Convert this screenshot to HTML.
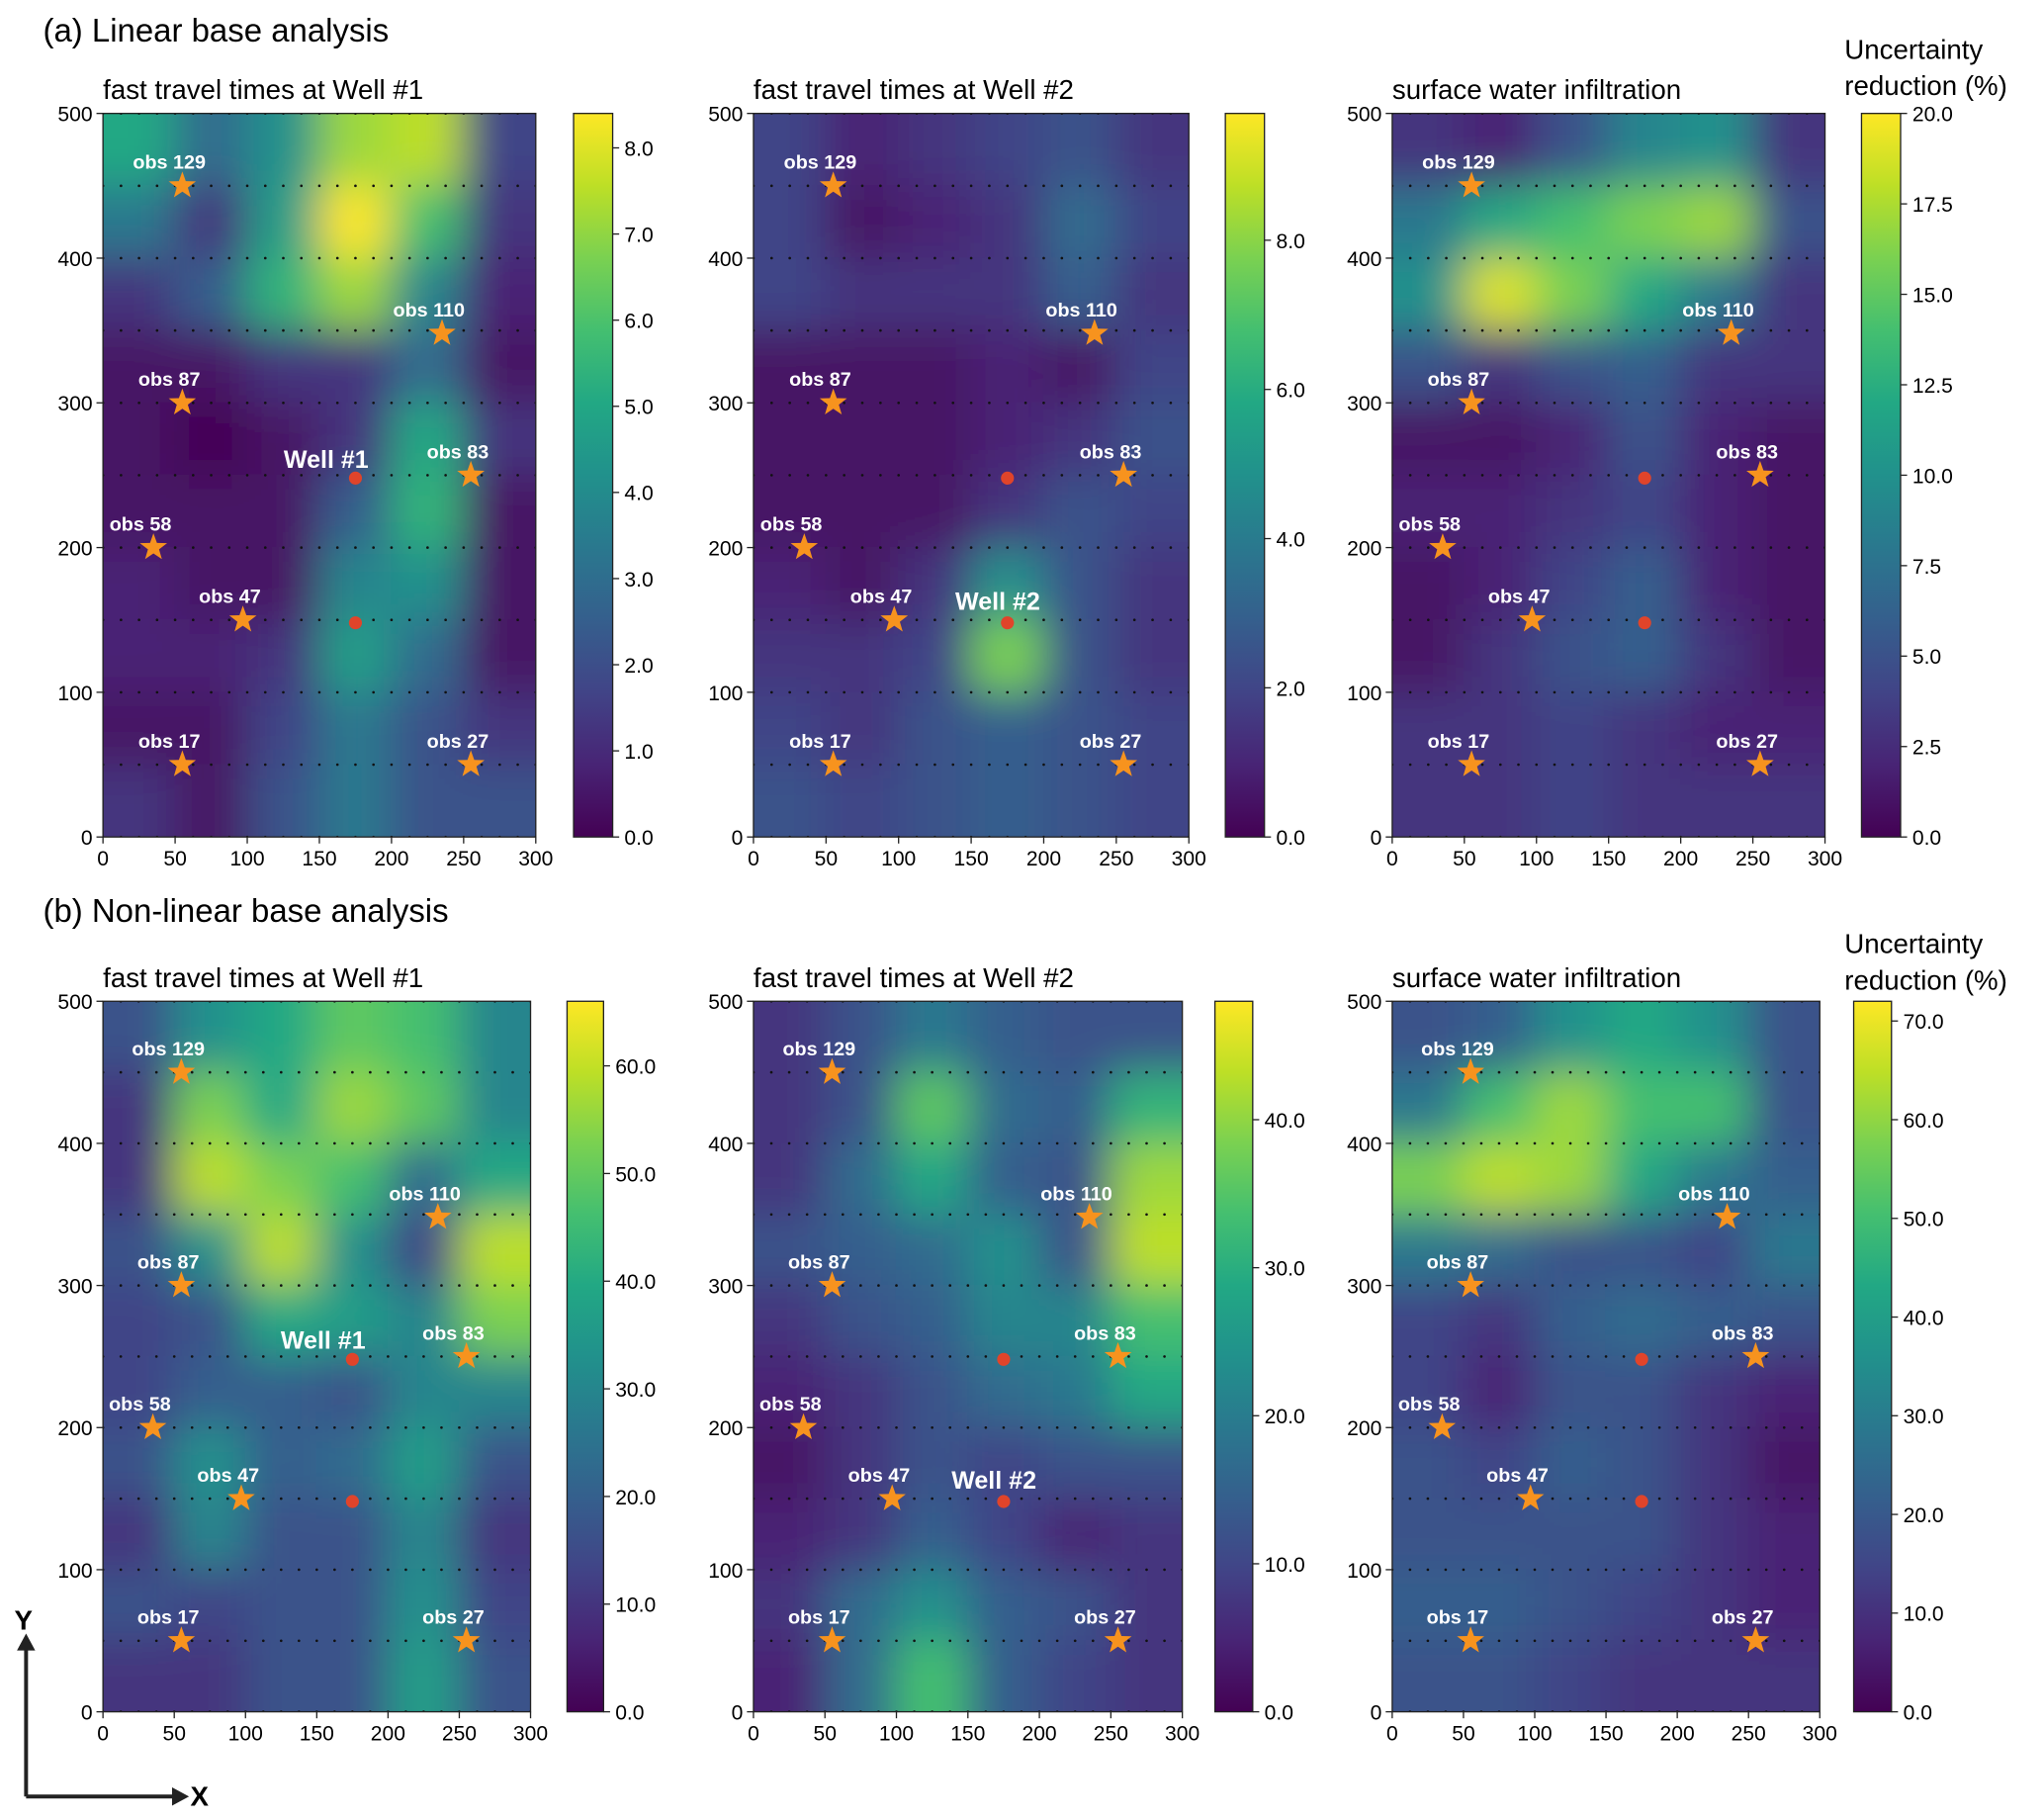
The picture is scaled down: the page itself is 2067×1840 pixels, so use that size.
<!DOCTYPE html>
<html><head><meta charset="utf-8"><style>
html,body{margin:0;padding:0;background:#fff}
svg{display:block}
text{font-family:"Liberation Sans",Arial,sans-serif}
</style></head><body>
<svg id="fig" width="2067" height="1840" viewBox="0 0 1568 1396" preserveAspectRatio="none" xmlns="http://www.w3.org/2000/svg">
<defs>
<filter id="blur" x="-0.3" y="-0.3" width="1.6" height="1.6" filterUnits="objectBoundingBox"><feGaussianBlur stdDeviation="17"/></filter>
<linearGradient id="vir" x1="0" y1="1" x2="0" y2="0"></linearGradient>
</defs>
<text x="33" y="32" font-size="25">(a) Linear base analysis</text>
<text x="33" y="707" font-size="25">(b) Non-linear base analysis</text>
<text x="1415" y="45" font-size="21">Uncertainty</text>
<text x="1415" y="73" font-size="21">reduction (%)</text>
<text x="1415" y="731" font-size="21">Uncertainty</text>
<text x="1415" y="759" font-size="21">reduction (%)</text>
<g>
<line x1="20" y1="1378" x2="20" y2="1262" stroke="#222" stroke-width="3"/>
<polygon points="13,1266 27,1266 20,1253" fill="#222"/>
<line x1="20" y1="1378" x2="136" y2="1378" stroke="#222" stroke-width="3"/>
<polygon points="132,1371 132,1385 145,1378" fill="#222"/>
<text x="11" y="1250" font-size="21" font-weight="bold">Y</text>
<text x="146" y="1385" font-size="21" font-weight="bold">X</text>
</g>
<g id="root"></g>
</svg>
<script>
const viridisStops=["#440154","#482475","#414487","#355f8d","#2a788e","#21918c","#22a884","#44bf70","#7ad151","#bddf26","#fde725"];
const xTicks=[0,50,100,150,200,250,300];
const yTicks=[0,100,200,300,400,500];
const obsNames=["obs 129","obs 110","obs 87","obs 83","obs 58","obs 47","obs 17","obs 27"];
const obsX=[55,235,55,255,35,97,55,255];
const obsY=[450,348,300,250,200,150,50,50];
const wellX=[175,175];
const wellY=[248,148];
const titles=["fast travel times at Well #1","fast travel times at Well #2","surface water infiltration","fast travel times at Well #1","fast travel times at Well #2","surface water infiltration"];
const cbarMax=[8.4,9.7,20,66,48,72];
const cbarTicksA1=[0,1,2,3,4,5,6,7,8];
const cbarTicksA2=[0,2,4,6,8];
const cbarTicksA3=[0,2.5,5,7.5,10,12.5,15,17.5,20];
const cbarTicksB1=[0,10,20,30,40,50,60];
const cbarTicksB2=[0,10,20,30,40];
const cbarTicksB3=[0,10,20,30,40,50,60,70];
const cbarTicks=[cbarTicksA1,cbarTicksA2,cbarTicksA3,cbarTicksB1,cbarTicksB2,cbarTicksB3];
// grids: rows from y=475 down to y=25, columns x=25..275 (normalized 0..1)
const gridA1=[[0.6,0.35,0.5,0.85,0.9,0.2],[0.4,0.15,0.55,1.0,0.7,0.15],[0.15,0.3,0.65,0.85,0.45,0.1],[0.05,0.05,0.15,0.15,0.35,0.05],[0.05,0.0,0.05,0.15,0.6,0.15],[0.05,0.05,0.05,0.3,0.65,0.05],[0.1,0.05,0.05,0.45,0.5,0.05],[0.1,0.1,0.15,0.55,0.35,0.05],[0.05,0.05,0.2,0.4,0.25,0.15],[0.15,0.05,0.25,0.4,0.25,0.25]];
const gridA2=[[0.2,0.1,0.15,0.2,0.25,0.15],[0.2,0.05,0.1,0.15,0.35,0.2],[0.2,0.15,0.15,0.15,0.3,0.15],[0.05,0.05,0.05,0.1,0.05,0.2],[0.05,0.05,0.05,0.1,0.15,0.25],[0.05,0.05,0.05,0.15,0.25,0.2],[0.1,0.05,0.15,0.5,0.25,0.15],[0.15,0.15,0.2,0.8,0.25,0.15],[0.2,0.15,0.25,0.3,0.25,0.2],[0.25,0.2,0.25,0.3,0.25,0.2]];
const gridA3=[[0.15,0.1,0.25,0.45,0.5,0.15],[0.4,0.6,0.7,0.8,0.85,0.25],[0.5,0.95,0.8,0.6,0.4,0.15],[0.25,0.15,0.25,0.3,0.15,0.15],[0.05,0.05,0.1,0.25,0.1,0.05],[0.1,0.1,0.15,0.2,0.1,0.05],[0.05,0.1,0.2,0.3,0.1,0.05],[0.05,0.15,0.25,0.3,0.15,0.05],[0.15,0.15,0.2,0.15,0.1,0.1],[0.15,0.15,0.2,0.15,0.15,0.15]];
const gridB1=[[0.25,0.5,0.6,0.75,0.7,0.45],[0.15,0.8,0.6,0.85,0.75,0.45],[0.15,0.9,0.8,0.7,0.35,0.6],[0.25,0.5,0.9,0.5,0.2,0.9],[0.2,0.25,0.6,0.55,0.45,0.8],[0.2,0.3,0.3,0.25,0.45,0.45],[0.25,0.5,0.3,0.35,0.55,0.25],[0.15,0.45,0.25,0.25,0.45,0.15],[0.25,0.2,0.25,0.25,0.5,0.2],[0.15,0.15,0.25,0.25,0.55,0.25]];
const gridB2=[[0.15,0.25,0.4,0.3,0.25,0.25],[0.15,0.25,0.75,0.35,0.3,0.65],[0.15,0.35,0.6,0.3,0.25,0.85],[0.25,0.3,0.35,0.5,0.25,0.9],[0.15,0.25,0.3,0.45,0.45,0.7],[0.1,0.15,0.25,0.35,0.4,0.6],[0.05,0.15,0.25,0.2,0.25,0.25],[0.1,0.15,0.3,0.2,0.1,0.15],[0.15,0.35,0.5,0.3,0.25,0.15],[0.1,0.35,0.7,0.3,0.2,0.15]];
const gridB3=[[0.25,0.3,0.5,0.6,0.5,0.25],[0.4,0.7,0.85,0.7,0.7,0.25],[0.8,0.9,0.85,0.6,0.4,0.3],[0.4,0.35,0.25,0.25,0.2,0.4],[0.2,0.15,0.3,0.35,0.3,0.25],[0.2,0.1,0.25,0.25,0.15,0.1],[0.25,0.2,0.3,0.25,0.15,0.05],[0.25,0.25,0.25,0.25,0.15,0.1],[0.3,0.3,0.25,0.2,0.15,0.1],[0.25,0.25,0.2,0.15,0.15,0.15]];
const grids=[gridA1,gridA2,gridA3,gridB1,gridB2,gridB3];
const wellLabelPanel=[1,2,0,1,2,0];

const NS="http://www.w3.org/2000/svg";
function mk(tag,attrs,parent){const e=document.createElementNS(NS,tag);for(const k in attrs)e.setAttribute(k,attrs[k]);parent.appendChild(e);return e;}
function hex(h){return [1,3,5].map(i=>parseInt(h.substr(i,2),16));}
function viridis(t){t=Math.max(0,Math.min(1,t));const p=t*(viridisStops.length-1);const i=Math.min(Math.floor(p),viridisStops.length-2);const f=p-i;const a=hex(viridisStops[i]),b=hex(viridisStops[i+1]);return `rgb(${a.map((v,k)=>Math.round(v+(b[k]-v)*f)).join(",")})`;}
const grad=document.getElementById('vir');
viridisStops.forEach((c,i)=>mk('stop',{offset:(i/(viridisStops.length-1)),'stop-color':c},grad));

const layouts=[
 {x0:79,x1:411,y0:87,y1:642,cb:440,cw:30},
 {x0:578,x1:912,y0:87,y1:642,cb:940,cw:30},
 {x0:1068,x1:1400,y0:87,y1:642,cb:1428,cw:30},
 {x0:79,x1:407,y0:768,y1:1313,cb:435,cw:28},
 {x0:578,x1:907,y0:768,y1:1313,cb:932,cw:29},
 {x0:1068,x1:1396,y0:768,y1:1313,cb:1422,cw:29}];
const root=document.getElementById('root');
layouts.forEach((L,p)=>{
 const g=mk('g',{},root);
 
 
 const sx=v=>L.x0+(L.x1-L.x0)*v/300;
 const sy=v=>L.y1-(L.y1-L.y0)*v/500;
 const t=mk('text',{x:L.x0,y:L.y0-11,'font-size':21},g);t.textContent=titles[p];
 
 
 const cp=mk('clipPath',{id:'cp'+p},g);
 mk('rect',{x:L.x0,y:L.y0,width:L.x1-L.x0,height:L.y1-L.y0},cp);
 const hm=mk('g',{'clip-path':`url(#cp${p})`},g);
 const hb=mk('g',{filter:'url(#blur)'},hm);
 const grid=grids[p];
 const nr=grid.length,nc=grid[0].length,pad=70;
 grid.forEach((row,r)=>row.forEach((v,c)=>{
  const cx=c*50,cyTop=500-r*50;
  let x=sx(cx)-0.5,y=sy(cyTop)-0.5,w=sx(cx+50)-sx(cx)+1,h=sy(cyTop-50)-sy(cyTop)+1;
  if(c===0){x-=pad;w+=pad;} if(c===nc-1){w+=pad;}
  if(r===0){y-=pad;h+=pad;} if(r===nr-1){h+=pad;}
  const e=mk('rect',{x:x,y:y,width:w,height:h,fill:viridis(v)},hb);
  
  
 }));
 for(let yy=0;yy<=500;yy+=50)for(let xx=0;xx<=300;xx+=12.5)mk('circle',{cx:sx(xx),cy:sy(yy),r:1,fill:'#111'},hm);
 mk('rect',{x:L.x0,y:L.y0,width:L.x1-L.x0,height:L.y1-L.y0,fill:'none',stroke:'#222','stroke-width':1},g);
 xTicks.forEach(v=>{mk('line',{x1:sx(v),x2:sx(v),y1:L.y1,y2:L.y1+5,stroke:'#222'},g);const e=mk('text',{x:sx(v),y:L.y1+22,'font-size':16,'text-anchor':'middle'},g);e.textContent=v;});
 yTicks.forEach(v=>{mk('line',{x1:L.x0-5,x2:L.x0,y1:sy(v),y2:sy(v),stroke:'#222'},g);const e=mk('text',{x:L.x0-8,y:sy(v)+6,'font-size':16,'text-anchor':'end'},g);e.textContent=v;});
 wellX.forEach((wx,i)=>{const c=mk('circle',{cx:sx(wx),cy:sy(wellY[i]),r:5,fill:'#e0442a'},g);
  
  });
 if(wellLabelPanel[p]){const w=wellLabelPanel[p]-1;const e=mk('text',{'font-size':19,'font-weight':'bold',fill:'#fff'},g);e.textContent='Well #'+(w+1);
  if(w===1){e.setAttribute('x',sx(wellX[w])-40);e.setAttribute('y',sy(wellY[w])-10);}
  else{e.setAttribute('x',sx(wellX[w])-55);e.setAttribute('y',sy(wellY[w])-8);}
 }
 obsX.forEach((ox,i)=>{
  const cx=sx(ox),cy=sy(obsY[i]);let pts=[];
  for(let k=0;k<10;k++){const a=-Math.PI/2+k*Math.PI/5;const r=k%2?4.5:11;pts.push((cx+r*Math.cos(a)).toFixed(1)+','+(cy+r*Math.sin(a)).toFixed(1));}
  const s=mk('polygon',{points:pts.join(' '),fill:'#f7931e'},g);
  
  
  const tx=mk('text',{x:cx-10,y:cy-13,'font-size':15,'font-weight':'bold',fill:'#fff','text-anchor':'middle'},g);tx.textContent=obsNames[i];
 });
 const cb=mk('g',{},g);
 
 
 mk('rect',{x:L.cb,y:L.y0,width:L.cw,height:L.y1-L.y0,fill:'url(#vir)',stroke:'#222'},cb);
 const cyv=v=>L.y1-(L.y1-L.y0)*v/cbarMax[p];
 cbarTicks[p].forEach(v=>{const y=cyv(v);mk('line',{x1:L.cb+L.cw,x2:L.cb+L.cw+5,y1:y,y2:y,stroke:'#222'},cb);const e=mk('text',{x:L.cb+L.cw+9,y:y+6,'font-size':16},cb);e.textContent=v.toFixed(1);});
});
</script>
</body></html>
